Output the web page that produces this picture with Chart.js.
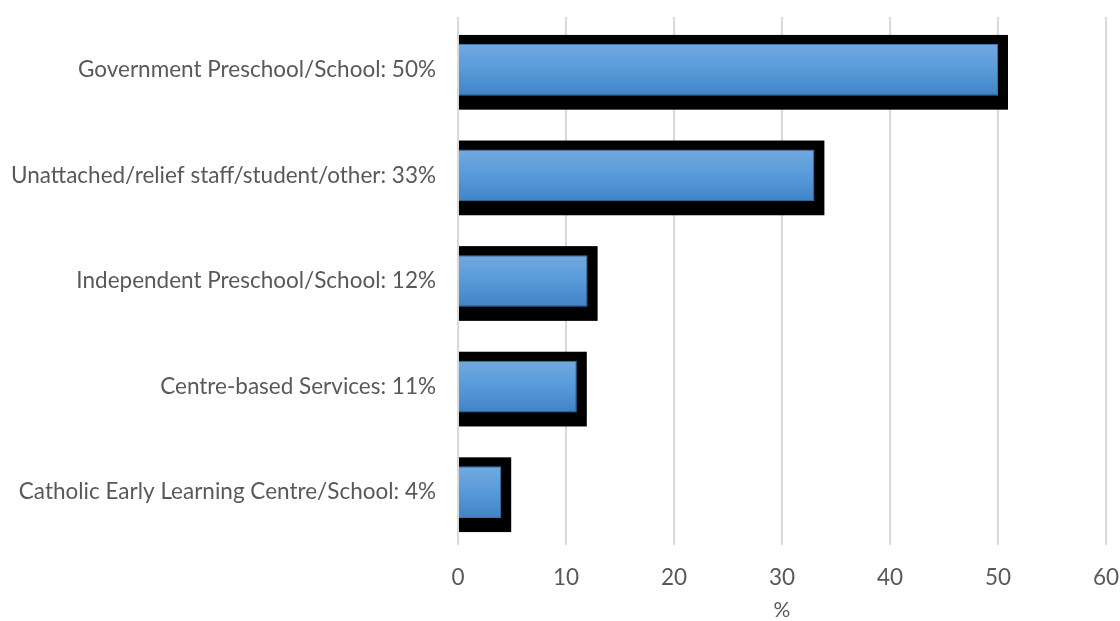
<!DOCTYPE html>
<html>
<head>
<meta charset="utf-8">
<script src="https://cdn.jsdelivr.net/npm/chart.js@4/dist/chart.umd.min.js"></script>
<style>
  html, body { margin: 0; padding: 0; background: #fff; }
  #wrap { width: 1120px; height: 621px; }
</style>
</head>
<body>
<div id="wrap"><canvas id="chart"></canvas></div>
<script>
// Datos del gráfico
const categories = [
    'Government Preschool/School: 50%',
    'Unattached/relief staff/student/other: 33%',
    'Independent Preschool/School: 12%',
    'Centre-based Services: 11%',
    'Catholic Early Learning Centre/School: 4%'
];
const values = [50, 33, 12, 11, 4];
const xTicks = [0, 10, 20, 30, 40, 50, 60];

const BAR_PCT = 0.49;

// Marco negro detrás de cada barra
const framePlugin = {
    id: 'frame',
    beforeDatasetsDraw(chart) {
        const ctx = chart.ctx;
        const meta = chart.getDatasetMeta(0);
        ctx.save();
        ctx.fillStyle = '#000';
        meta.data.forEach(bar => {
            const h = bar.height;
            const top = bar.y - h / 2 - 9;
            const bottom = bar.y + h / 2 + 14;
            ctx.fillRect(bar.base, top, bar.x + 10 - bar.base, bottom - top);
        });
        ctx.restore();
    }
};

function barGradient(context) {
    const chart = context.chart;
    const yScale = chart.scales.y;
    if (!yScale || context.dataIndex === undefined) return '#5b9bd5';
    const center = yScale.getPixelForValue(context.dataIndex);
    const band = (yScale.bottom - yScale.top) / categories.length;
    const h = band * BAR_PCT;
    if (!isFinite(center) || !isFinite(h) || h <= 0) return '#5b9bd5';
    const g = chart.ctx.createLinearGradient(0, center - h / 2, 0, center + h / 2);
    g.addColorStop(0, '#72a9df');
    g.addColorStop(0.5, '#579ad9');
    g.addColorStop(1, '#3f84c6');
    return g;
}

new Chart(document.getElementById('chart'), {
    type: 'bar',
    data: {
        labels: categories,
        datasets: [{
            data: values,
            backgroundColor: barGradient,
            borderColor: '#3b76b3',
            borderWidth: 1,
            borderSkipped: 'start',
            barPercentage: BAR_PCT,
            categoryPercentage: 1
        }]
    },
    options: {
        indexAxis: 'y',
        responsive: true,
        maintainAspectRatio: false,
        animation: false,
        layout: { padding: { top: 17, right: 14, left: 0, bottom: 0 } },
        plugins: {
            legend: { display: false },
            tooltip: { enabled: false }
        },
        scales: {
            x: {
                min: 0,
                max: 60,
                afterBuildTicks: scale => {
                    scale.ticks = xTicks.map(v => ({ value: v }));
                },
                grid: { color: '#d9d9d9', lineWidth: 2, drawTicks: false },
                border: { display: false },
                ticks: {
                    color: '#595959',
                    font: { family: 'Lato', size: 22.5 },
                    padding: 19
                },
                title: {
                    display: true,
                    text: '%',
                    color: '#595959',
                    font: { family: 'Lato', size: 21, lineHeight: 1 },
                    padding: { top: 9, bottom: 0 }
                },
                afterFit: scale => {
                    scale.height = 76;
                    scale.paddingLeft = 0;
                    scale.paddingRight = 0;
                }
            },
            y: {
                grid: { display: false, drawTicks: false },
                border: { display: false },
                ticks: {
                    color: '#595959',
                    font: { family: 'Lato', size: 22.5 },
                    padding: 22
                },
                afterFit: scale => {
                    scale.width = 458;
                    scale.paddingTop = 0;
                    scale.paddingBottom = 0;
                }
            }
        }
    },
    plugins: [framePlugin]
});
</script>
</body>
</html>
